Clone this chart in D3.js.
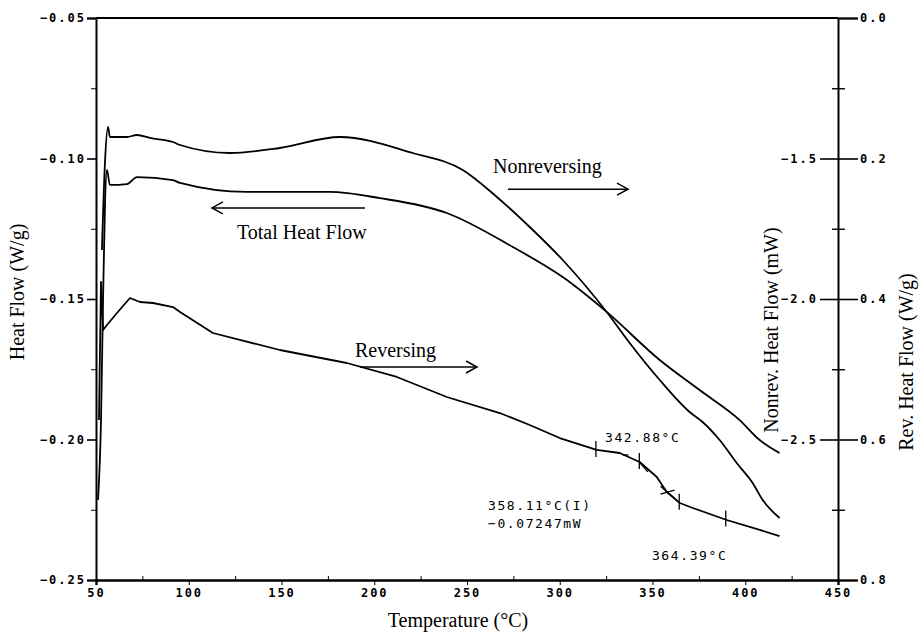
<!DOCTYPE html>
<html><head><meta charset="utf-8">
<script src="https://cdn.jsdelivr.net/npm/d3@7"></script>
<style>
html,body{margin:0;padding:0;background:#fff;}
svg{display:block;}
.tick text{font-family:"DejaVu Sans Mono",monospace;font-weight:bold;font-size:12px;letter-spacing:2px;fill:#000;}
.ttl{font-family:"Liberation Serif","Times New Roman",serif;font-size:20px;fill:#000;}
.mono{font-family:"DejaVu Sans Mono",monospace;font-size:13px;letter-spacing:1.6px;fill:#000;}
</style></head>
<body>
<script>
// ---- data (temperature in °C) ----
const totalT  = [51.1,52.7,53.8,54.9,55.9,57.5,66.7,72.1,91.5,95.3,131.4,176.1,203.0,239.1,274.7,301.6,325.3,353.9,375.4,397.0,407.8,418.5];
const totalHF = [-0.2215,-0.1931,-0.1504,-0.1148,-0.1041,-0.1094,-0.1091,-0.1066,-0.1077,-0.1087,-0.1119,-0.1119,-0.1141,-0.1194,-0.1315,-0.1422,-0.1546,-0.1717,-0.1824,-0.1931,-0.2002,-0.2048];

const nonrevT  = [53.2,54.9,56.5,57.5,66.7,72.1,79.1,91.5,95.3,122.2,149.1,181.5,220.8,247.7,266.1,283.8,301.6,325.3,337.7,353.9,370.0,377.0,386.2,395.4,404.0,409.4,418.5];
const nonrevHF = [-1.8256,-1.5053,-1.3879,-1.4235,-1.4235,-1.4164,-1.4270,-1.4413,-1.4520,-1.4804,-1.4626,-1.4235,-1.4804,-1.5409,-1.6370,-1.7438,-1.8612,-2.0463,-2.1566,-2.2883,-2.4021,-2.4377,-2.5018,-2.5836,-2.6548,-2.7153,-2.7794];

const revT  = [51.6,52.7,53.8,55.9,61.3,68.3,73.7,80.7,91.5,95.3,113.0,149.1,185.2,212.2,239.1,267.7,283.8,300.0,319.9,332.3,343.1,352.3,357.7,364.7,371.7,390.0,407.8,418.5];
const revHF = [0.5722,0.3758,0.4441,0.4370,0.4199,0.3986,0.4043,0.4057,0.4114,0.4185,0.4484,0.4726,0.4911,0.5110,0.5395,0.5623,0.5794,0.5979,0.6149,0.6192,0.6320,0.6534,0.6747,0.6904,0.6975,0.7146,0.7288,0.7374];

const xTicks = [50,100,150,200,250,300,350,400,450];
const leftTicks = [-0.05,-0.10,-0.15,-0.20,-0.25];
const nonrevTicks = [-1.5,-2.0,-2.5];
const revTicks = [0.0,0.2,0.4,0.6,0.8];

// marker temperatures on reversing curve and their values
const markT = [319.5,342.9,364.4,389.5];
const markR = [0.615,0.632,0.690,0.714];
const crossT = 358.1, crossR = 0.675;

// ---- chart ----
const W=924,H=636;
const svg=d3.select("body").append("svg").attr("width",W).attr("height",H);
const x=d3.scaleLinear().domain([50,450]).range([96,838]);
const yL=d3.scaleLinear().domain([-0.05,-0.25]).range([18,580]);
const yN=d3.scaleLinear().domain([-1.0,-3.0]).range([18,580]);
const yR=d3.scaleLinear().domain([0.0,0.8]).range([18,580]);
const fmt2=d3.format(".2f"), fmt1=d3.format(".1f");

// top frame line
svg.append("line").attr("stroke","#000").attr("stroke-width",2)
  .attr("x1",x(50)).attr("x2",x(450)).attr("y1",yL(-0.05)).attr("y2",yL(-0.05));

// bottom axis
const gx=svg.append("g").attr("transform",`translate(0,${yL(-0.25)})`)
  .call(d3.axisBottom(x).tickValues(xTicks).tickSize(5).tickPadding(3).tickFormat(d3.format("d")));
gx.select(".domain").attr("stroke-width",2.4);
svg.append("g").attr("transform",`translate(0,${yL(-0.25)})`)
  .call(d3.axisTop(x).tickValues(d3.range(75,450,50)).tickSize(4).tickFormat(""))
  .select(".domain").remove();

// left axis
const gl=svg.append("g").attr("transform",`translate(${x(50)},0)`)
  .call(d3.axisLeft(yL).tickValues(leftTicks).tickSize(9).tickPadding(1).tickFormat(fmt2));
gl.select(".domain").attr("stroke-width",2);
gl.selectAll(".tick line").attr("stroke-width",1.6);
svg.append("g").attr("transform",`translate(${x(50)},0)`)
  .call(d3.axisLeft(yL).tickValues([-0.075,-0.125,-0.175,-0.225]).tickSize(5).tickFormat(""))
  .select(".domain").remove();

// right axes
const gr=svg.append("g").attr("transform",`translate(${x(450)},0)`)
  .call(d3.axisRight(yR).tickValues(revTicks).tickSize(20).tickPadding(2).tickFormat(fmt1));
gr.select(".domain").attr("stroke-width",2);
gr.selectAll(".tick line").attr("stroke-width",1.6);
const gn=svg.append("g").attr("transform",`translate(${x(450)},0)`)
  .call(d3.axisLeft(yN).tickValues(nonrevTicks).tickSize(18).tickPadding(2).tickFormat(fmt1));
gn.select(".domain").remove();
gn.selectAll(".tick line").attr("stroke-width",1.6);
svg.append("g").attr("transform",`translate(${x(450)},0)`)
  .call(d3.axisLeft(yR).tickValues([0.1,0.3,0.5,0.7]).tickSizeInner(-7).tickSizeOuter(0).tickFormat(""))
  .call(g=>g.select(".domain").remove())
  .call(g=>g.selectAll(".tick line").attr("x1",-6).attr("stroke-width",1.4));

// curves
const lineTotal=d3.line().curve(d3.curveMonotoneX).x((d,i)=>x(totalT[i])).y(d=>yL(d));
const lineNon=d3.line().curve(d3.curveMonotoneX).x((d,i)=>x(nonrevT[i])).y(d=>yN(d));
const lineRev=d3.line().x((d,i)=>x(revT[i])).y(d=>yR(d));
const curves=svg.append("g").attr("fill","none").attr("stroke","#000").attr("stroke-width",1.8).attr("stroke-linejoin","round");
curves.append("path").attr("d",lineTotal(totalHF));
curves.append("path").attr("d",lineNon(nonrevHF));
curves.append("path").attr("d",lineRev(revHF));

// markers on reversing curve
const mk=svg.append("g").attr("stroke","#000").attr("stroke-width",1.3);
markT.forEach((t,i)=>{
  mk.append("line").attr("x1",x(t)).attr("x2",x(t)).attr("y1",yR(markR[i])-9).attr("y2",yR(markR[i])+7);
});
mk.append("line").attr("x1",x(crossT)-7).attr("x2",x(crossT)+7).attr("y1",yR(crossR)-6).attr("y2",yR(crossR)+6);
mk.append("line").attr("x1",x(crossT)-7).attr("x2",x(crossT)+7).attr("y1",yR(crossR)+2).attr("y2",yR(crossR)-2);
mk.append("line").attr("x1",x(334)).attr("x2",x(337)).attr("y1",yR(0.622)).attr("y2",yR(0.622));
mk.append("line").attr("x1",x(342.9)).attr("x2",x(347.5)).attr("y1",yR(0.632)).attr("y2",yR(0.646));

// arrows
function arrow(t1,t2,v){
  const g=svg.append("g").attr("stroke","#000").attr("stroke-width",1.5).attr("fill","none");
  const x1=x(t1),x2=x(t2),yy=yL(v),dir=x2>x1?1:-1;
  g.append("line").attr("x1",x1).attr("x2",x2).attr("y1",yy).attr("y2",yy);
  g.append("path").attr("d",`M${x2-dir*11},${yy-6}L${x2},${yy}L${x2-dir*11},${yy+6}`);
}
arrow(272.1,336.8,-0.1109);
arrow(195.0,112.5,-0.1176);
arrow(192.3,255.4,-0.1742);

// labels
function txt(t,v,s,cls){svg.append("text").attr("class",cls).attr("x",x(t)).attr("y",yL(v)).text(s);}
txt(264.0,-0.1052,"Nonreversing","ttl");
txt(126.0,-0.1288,"Total Heat Flow","ttl");
txt(189.6,-0.1705,"Reversing","ttl");
txt(324.4,-0.2009,"342.88°C","mono");
txt(261.3,-0.2251,"358.11°C(I)","mono");
txt(261.3,-0.2315,"−0.07247mW","mono");
txt(349.7,-0.2429,"364.39°C","mono");

// axis titles
svg.append("text").attr("class","ttl").attr("text-anchor","middle")
  .attr("transform","translate(24,292) rotate(-90)").text("Heat Flow (W/g)");
svg.append("text").attr("class","ttl").attr("text-anchor","middle")
  .attr("x",458).attr("y",627).text("Temperature (°C)");
svg.append("text").attr("class","ttl").attr("text-anchor","middle")
  .attr("transform","translate(778,330) rotate(-90)").text("Nonrev. Heat Flow (mW)");
svg.append("text").attr("class","ttl").attr("text-anchor","middle")
  .attr("transform","translate(913,362) rotate(-90)").text("Rev. Heat Flow (W/g)");
</script>
</body></html>
